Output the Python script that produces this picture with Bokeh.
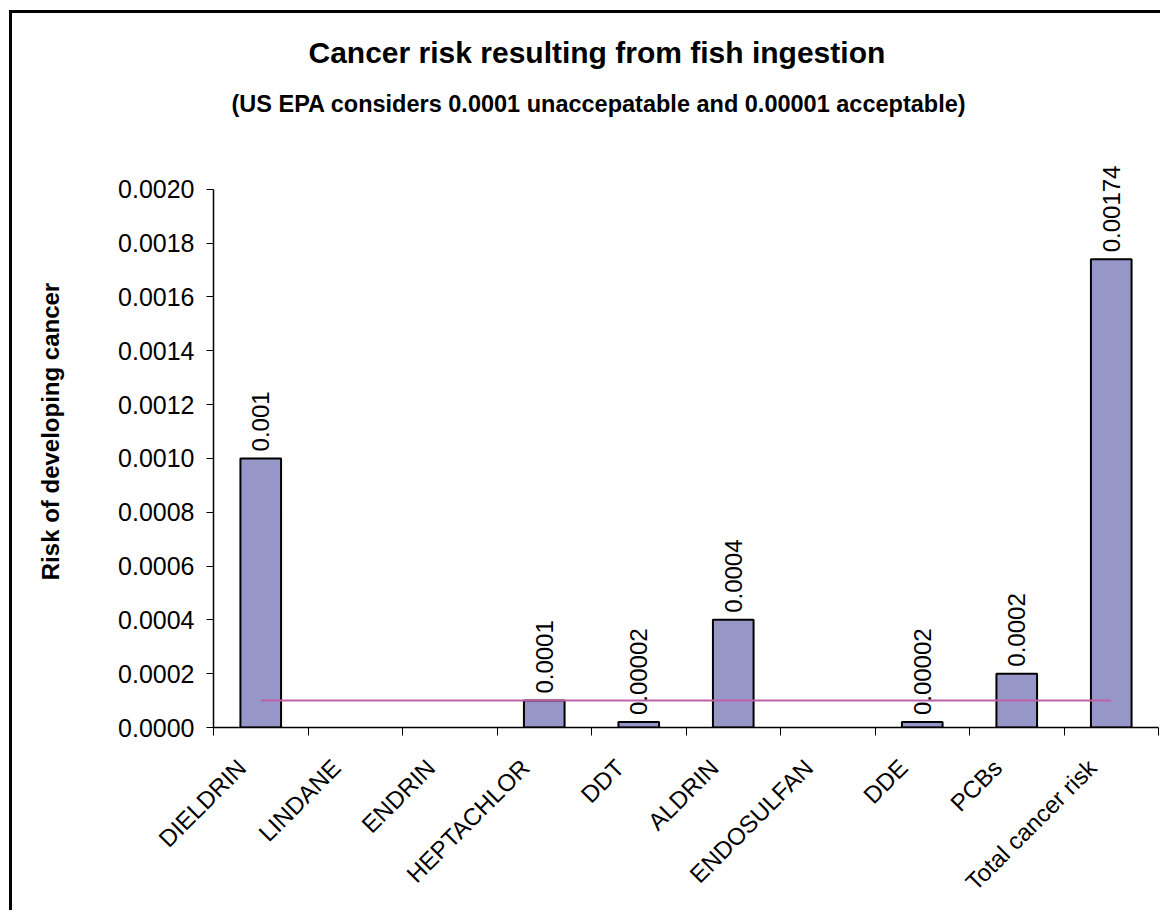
import math
from bokeh.plotting import figure
from bokeh.models import (ColumnDataSource, FixedTicker, Range1d, Title,
                          NumeralTickFormatter)
from bokeh.core.properties import value
from bokeh.embed import file_html
from bokeh.resources import INLINE

# ---- data ----
categories = ["DIELDRIN", "LINDANE", "ENDRIN", "HEPTACHLOR", "DDT", "ALDRIN",
              "ENDOSULFAN", "DDE", "PCBs", "Total cancer risk"]
risk = [0.001, 0.0, 0.0, 0.0001, 0.00002, 0.0004, 0.0, 0.00002, 0.0002, 0.00174]
value_labels = ["0.001", "", "", "0.0001", "0.00002", "0.0004", "", "0.00002", "0.0002", "0.00174"]
threshold = 0.0001
y_ticks = [0.0, 0.0002, 0.0004, 0.0006, 0.0008, 0.0010, 0.0012, 0.0014, 0.0016, 0.0018, 0.0020]

FONT = "Liberation Sans"

xc = [i + 0.5 for i in range(len(categories))]
keep = [i for i, v in enumerate(risk) if v > 0]
src = ColumnDataSource(dict(x=[xc[i] for i in keep], top=[risk[i] for i in keep],
                            lab=[value_labels[i] for i in keep]))

p = figure(width=1160, height=910, output_backend="svg", toolbar_location=None,
           x_range=Range1d(0, len(categories)), y_range=Range1d(0, 0.0022),
           min_border_left=213, min_border_right=2, min_border_top=135,
           min_border_bottom=183)
p.outline_line_color = None
p.background_fill_color = "white"
p.border_fill_alpha = 0
# outer chart border (only its left and top edges fall inside the picture)
p.styles = {"background": "linear-gradient(#000, #000) 9px 10px / 3px 100% no-repeat, "
                          "linear-gradient(#000, #000) 9px 10px / 100% 3px no-repeat, #fff"}
p.xgrid.visible = False
p.ygrid.visible = False

# titles (first added sits closest to the plot)
sub = Title(text="(US EPA considers 0.0001 unaccepatable and 0.00001 acceptable)",
            align="left", offset=18, text_font=FONT, text_font_size="23.5px",
            text_font_style="bold", text_color="black", standoff=38)
p.add_layout(sub, "above")
main = Title(text="Cancer risk resulting from fish ingestion", align="left",
             offset=95, text_font=FONT, text_font_size="30px", text_font_style="bold",
             text_color="black", standoff=1)
p.add_layout(main, "above")

p.vbar(x="x", top="top", width=0.43, source=src, fill_color="#9696C8",
       line_color="black", line_width=2)

p.line(x=[xc[0], xc[-1]], y=[threshold, threshold], line_color="#C060A8", line_width=2)

p.text(x="x", y="top", text="lab", source=src, angle=math.pi / 2,
       text_align="left", text_baseline="middle", y_offset=-7,
       text_font=value(FONT), text_font_size="24px", text_color="black")

# y axis
p.yaxis.ticker = FixedTicker(ticks=y_ticks, minor_ticks=[])
p.yaxis.bounds = (y_ticks[0], y_ticks[-1])
p.yaxis.formatter = NumeralTickFormatter(format="0.0000")
p.yaxis.axis_label = "Risk of developing cancer"
p.yaxis.axis_label_text_font = FONT
p.yaxis.axis_label_text_font_size = "24px"
p.yaxis.axis_label_text_font_style = "bold"
p.yaxis.axis_label_text_color = "black"
p.yaxis.axis_label_standoff = 51
p.yaxis.major_label_text_font = FONT
p.yaxis.major_label_text_font_size = "25px"
p.yaxis.major_label_text_color = "black"
p.yaxis.major_label_standoff = 12
p.yaxis.major_tick_out = 7
p.yaxis.major_tick_in = 0
p.yaxis.axis_line_color = "black"
p.yaxis.axis_line_width = 1.5
p.yaxis.major_tick_line_color = "black"

# x axis: rotated labels placed slightly left of each category centre,
# tick marks at category boundaries
label_shift = 0.2
label_pos = [x - label_shift for x in xc]
p.xaxis.ticker = FixedTicker(ticks=label_pos, minor_ticks=list(range(len(categories) + 1)))
p.xaxis.major_label_overrides = {x: c for x, c in zip(label_pos, categories)}
p.xaxis.major_label_orientation = math.pi / 4
p.xaxis.major_label_text_font = FONT
p.xaxis.major_label_text_font_size = "24px"
p.xaxis.major_label_text_color = "black"
p.xaxis.major_label_standoff = 28
p.xaxis.major_tick_out = 0
p.xaxis.major_tick_in = 0
p.xaxis.minor_tick_out = 8
p.xaxis.minor_tick_in = 0
p.xaxis.minor_tick_line_color = "black"
p.xaxis.axis_line_color = "black"
p.xaxis.axis_line_width = 1.5

open("out.html", "w").write(file_html(p, INLINE))
